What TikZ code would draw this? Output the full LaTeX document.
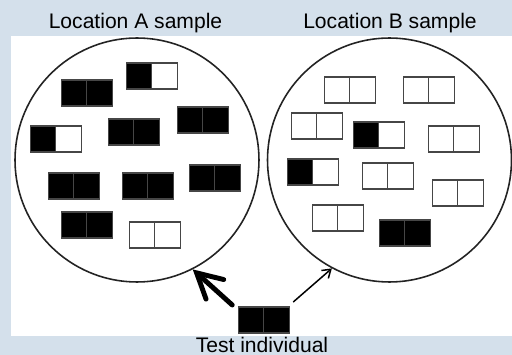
\documentclass[tikz,border=0pt]{standalone}
\usepackage{fontspec}
\setmainfont{Liberation Sans}
\usetikzlibrary{arrows.meta,positioning}
\definecolor{panelblue}{RGB}{212,224,235}
\definecolor{inkgray}{RGB}{35,35,35}
\definecolor{edgegray}{RGB}{70,70,70}

% one individual: two allele squares side by side
\newcommand{\genotype}[4]{% name, centre of left square, left fill, right fill
  \node[allele, fill=#3] (#1l) at (#2) {};
  \node[allele, fill=#4, right=0pt of #1l] (#1r) {};
}

\begin{document}
\begin{tikzpicture}[x=0.02cm, y=-0.02cm,
  allele/.style={rectangle, draw=edgegray, line width=0.8pt, outer sep=0pt, inner sep=0pt,
                 minimum width=0.51cm, minimum height=0.52cm},
  sample/.style={circle, draw=inkgray, line width=0.9pt, inner sep=0pt, minimum size=4.88cm},
  caption/.style={anchor=base, font=\fontsize{12}{14}\selectfont},
  bigarrow/.style={-{Straight Barb[length=14pt,width=15pt,line cap=round]}, line width=2.8pt, line cap=round},
  smallarrow/.style={-{Straight Barb[length=4.5pt,width=6pt]}, line width=0.85pt}
]
\useasboundingbox (0,0) rectangle (512,355);
\fill[panelblue] (0,0) rectangle (512,355);
\fill[white] (11,36) rectangle (512,336);

% Samples
\node[sample] (locA) at (137,160) {};
\node[sample] (locB) at (389.5,160) {};
\node[caption] (labA) at (135.5,29) {Location A sample};
\node[caption] (labB) at (390,29) {Location B sample};

% Location A individuals
\genotype{a1}{74,93}{black}{black}
\genotype{a2}{139,76}{black}{white}
\genotype{a3}{43,139}{black}{white}
\genotype{a4}{121,132}{black}{black}
\genotype{a5}{190,120}{black}{black}
\genotype{a6}{61,186}{black}{black}
\genotype{a7}{135,186}{black}{black}
\genotype{a8}{202,178}{black}{black}
\genotype{a9}{74,225}{black}{black}
\genotype{a10}{142,235}{white}{white}

% Location B individuals
\genotype{b1}{337,90}{white}{white}
\genotype{b2}{416,90}{white}{white}
\genotype{b3}{304,126}{white}{white}
\genotype{b4}{366,135}{black}{white}
\genotype{b5}{441,139}{white}{white}
\genotype{b6}{300,172}{black}{white}
\genotype{b7}{375,176}{white}{white}
\genotype{b8}{445,193}{white}{white}
\genotype{b9}{325,218}{white}{white}
\genotype{b10}{392,233}{black}{black}

% Test individual and assignment arrows
\genotype{test}{251,320}{black}{black}
\node[caption] (labT) at (262,353) {Test individual};

\draw[bigarrow] ([shift={(-6,-2)}]testl.north west) -- (locA.-63);
\draw[smallarrow] ([shift={(4,-5)}]testr.north east) -- (locB.-118);
\end{tikzpicture}
\end{document}
